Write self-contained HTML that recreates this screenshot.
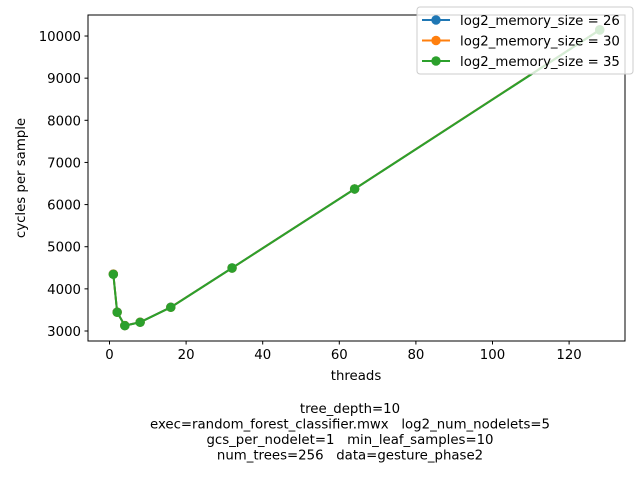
<!DOCTYPE html>
<html><head><meta charset="utf-8"><style>
body{margin:0;background:#fff;font-family:"Liberation Sans","DejaVu Sans",sans-serif}
svg text{font-family:"DejaVu Sans","Liberation Sans",sans-serif;font-size:13.3px;fill:#000;white-space:pre}
</style></head><body>
<svg id="c" width="640" height="480" xmlns="http://www.w3.org/2000/svg"></svg>
<script>
const threads=[1,2,4,8,16,32,64,128];
const series26=[4350,3450,3130,3210,3565,4495,6370,10150];
const series30=[4350,3445,3128,3208,3563,4494,6372,10148];
const series35=[4345,3444,3126,3206,3562,4495,6370,10143];
const seriesNames=["log2_memory_size = 26","log2_memory_size = 30","log2_memory_size = 35"];
const colors=["#1f77b4","#ff7f0e","#2ca02c"];
const xTicks=[0,20,40,60,80,100,120];
const yTicks=[3000,4000,5000,6000,7000,8000,9000,10000];
const L=88,R=625,T=15,B=341;
const xs=v=>109.5+v*3.83;
const ys=v=>331-(v-3000)*0.04214;
const svg=document.getElementById('c');
const NS="http://www.w3.org/2000/svg";
function mk(t,a,p){const e=document.createElementNS(NS,t);for(const k in a)e.setAttribute(k,a[k]);(p||svg).appendChild(e);return e;}
const frame=mk('rect',{x:L,y:T,width:R-L,height:B-T,fill:'none',stroke:'#000','stroke-width':1});


xTicks.forEach(v=>{const x=xs(v);
 const l=mk('line',{x1:x,x2:x,y1:B,y2:B+3.5,stroke:'#000'});
 
 
 const t=mk('text',{x:x,y:B+18,'text-anchor':'middle'});t.textContent=v;
 
 });
yTicks.forEach(v=>{const y=ys(v);
 const l=mk('line',{x1:L-3.5,x2:L,y1:y,y2:y,stroke:'#000'});
 
 
 const t=mk('text',{x:L-7,y:y+5,'text-anchor':'end'});t.textContent=v;
 
 });
[series26,series30,series35].forEach((s,i)=>{
 const g=mk('g',{});
 
 
 mk('polyline',{points:threads.map((t,j)=>xs(t)+','+ys(s[j])).join(' '),fill:'none',stroke:colors[i],'stroke-width':2});
 threads.forEach((t,j)=>{const c=mk('circle',{cx:xs(t),cy:ys(s[j]),r:4.7,fill:colors[i]},g);
  
  });
});
const xl=mk('text',{x:356,y:380,'text-anchor':'middle'});xl.textContent='threads';


const yl=mk('text',{x:25,y:178,'text-anchor':'middle',transform:'rotate(-90 25 178)'});yl.textContent='cycles per sample';


['tree_depth=10','exec=random_forest_classifier.mwx   log2_num_nodelets=5','gcs_per_nodelet=1   min_leaf_samples=10','num_trees=256   data=gesture_phase2'].forEach((s,i)=>{
 const t=mk('text',{x:350,y:413+i*15.5,'text-anchor':'middle'});t.textContent=s;
 
 });
const lg=mk('g',{});


mk('rect',{x:417,y:7,width:216,height:67,rx:3,fill:'#fff','fill-opacity':0.8,stroke:'#ccc'},lg);
seriesNames.forEach((n,i)=>{const y=20+i*20.5;
 const e=mk('g',{},lg);
 
 
 mk('line',{x1:422,x2:450,y1:y,y2:y,stroke:colors[i],'stroke-width':2},e);
 mk('circle',{cx:436,cy:y,r:4.7,fill:colors[i]},e);
 const t=mk('text',{x:460,y:y+5},e);t.textContent=n;});
</script>
</body></html>
